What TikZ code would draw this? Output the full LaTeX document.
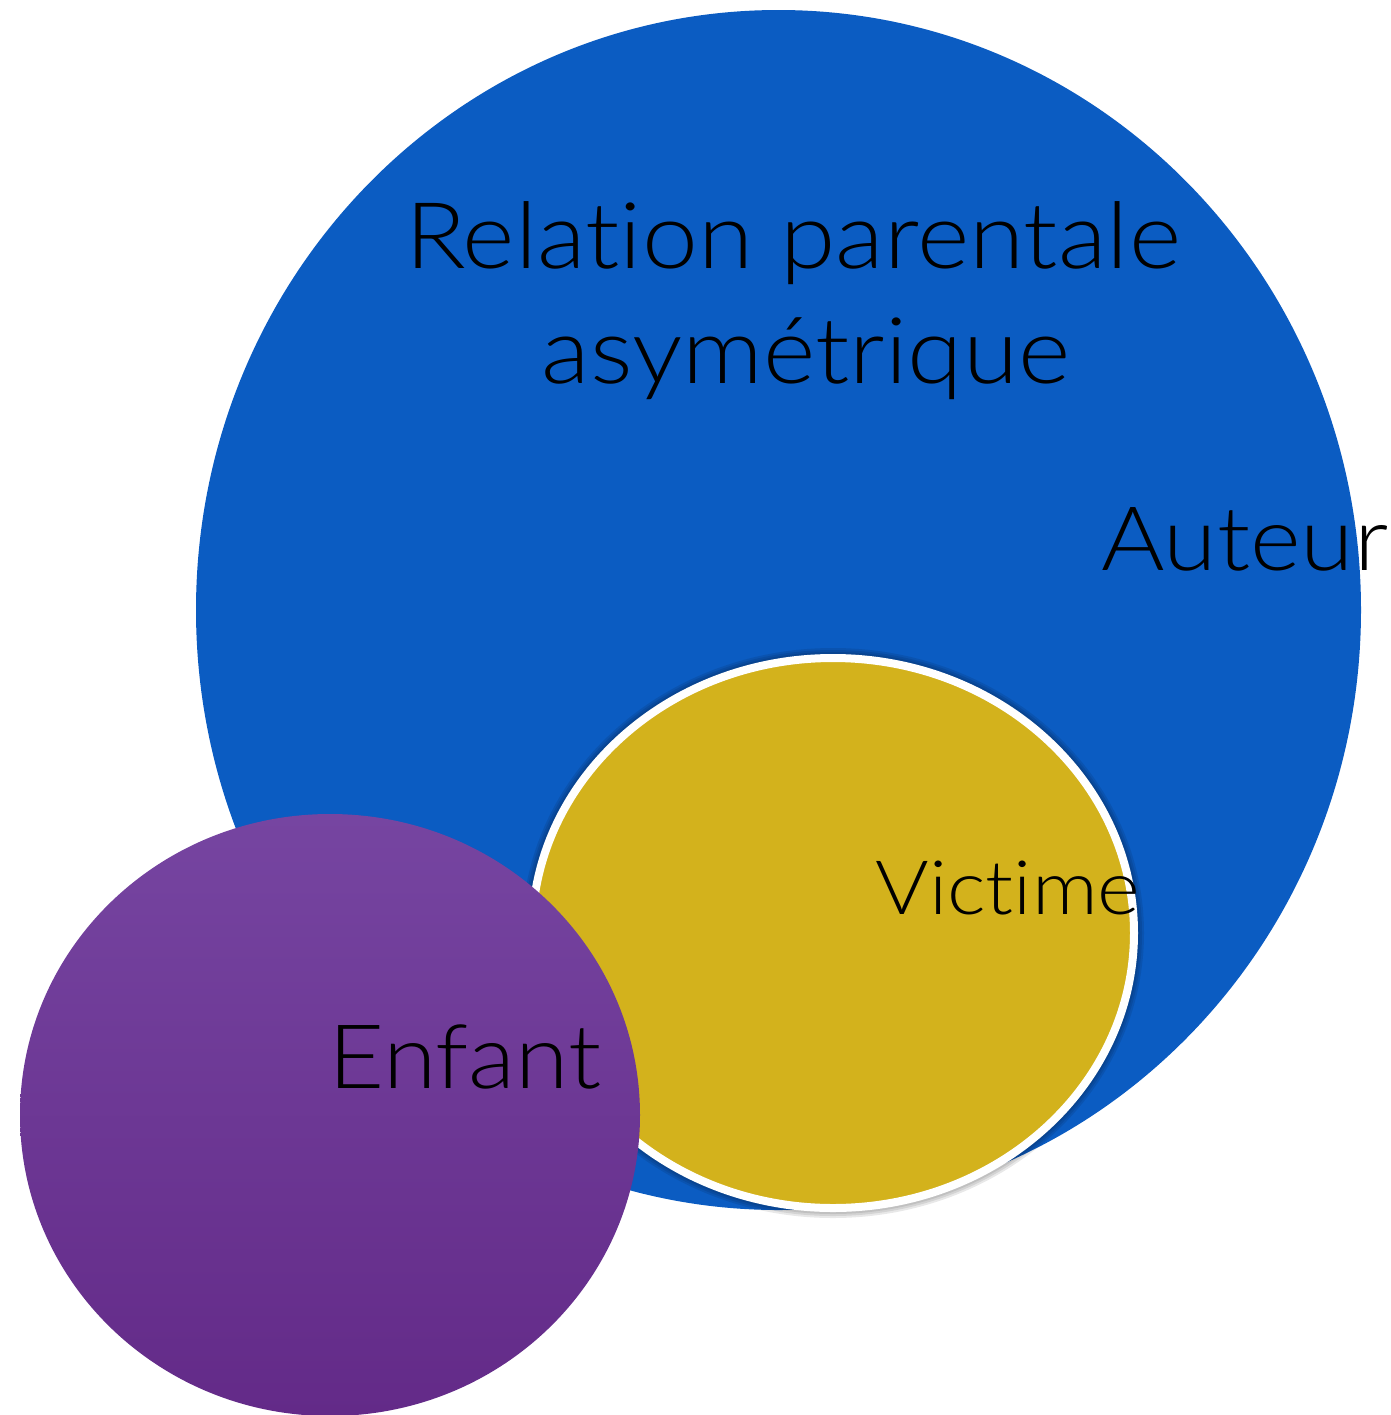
\documentclass[tikz,border=0pt]{standalone}
\usepackage{fontspec}
\setmainfont{Lato Light}[RawFeature={-liga}, FakeStretch=1.09]
\definecolor{cblue}{HTML}{0B5CC2}
\definecolor{cyellow}{HTML}{D3B21C}
\definecolor{cpurpletop}{HTML}{7645A1}
\definecolor{cpurplebot}{HTML}{632A88}
\tikzset{
  lbl/.style={inner sep=0pt, text=black},
  shad/.style={fill=black, opacity=0.09},
}
\begin{document}
\begin{tikzpicture}[x=0.5pt,y=-0.5pt]
\useasboundingbox (0,0) rectangle (1391,1415);
\begin{scope}
\clip (0,0) rectangle (1391,1415);
% blue
\fill[cblue] (778.5,610) ellipse [x radius=582.5, y radius=600];
% yellow with white rim and soft shadow
\fill[shad] (833,933) ellipse [x radius=311, y radius=285];
\fill[shad] (833,933) ellipse [x radius=309, y radius=283];
\fill[shad] (833,933) ellipse [x radius=307, y radius=281];
\filldraw[fill=cyellow, draw=white, line width=4pt] (833,933) ellipse [x radius=301, y radius=275];
% purple
\shade[top color=cpurpletop, bottom color=cpurplebot] (330,1115) ellipse [x radius=310, y radius=301];
% texts
\node[lbl, anchor=base, font=\fontsize{46}{50}\selectfont] (rel) at (793,268) {Relation parentale};
\node[lbl, anchor=base, font=\fontsize{46}{50}\selectfont] (asym) at (806,383) {asymétrique};
\node[lbl, anchor=base west, font=\fontsize{44.5}{48}\selectfont] (aut) at (1101,570) {Auteur};
\node[lbl, anchor=base west, font=\fontsize{37.5}{40}\selectfont] (vic) at (875,914) {Victime};
\node[lbl, anchor=base west, font=\fontsize{44.5}{48}\selectfont] (enf) at (328,1088) {Enfant};
\end{scope}
\end{tikzpicture}
\end{document}
